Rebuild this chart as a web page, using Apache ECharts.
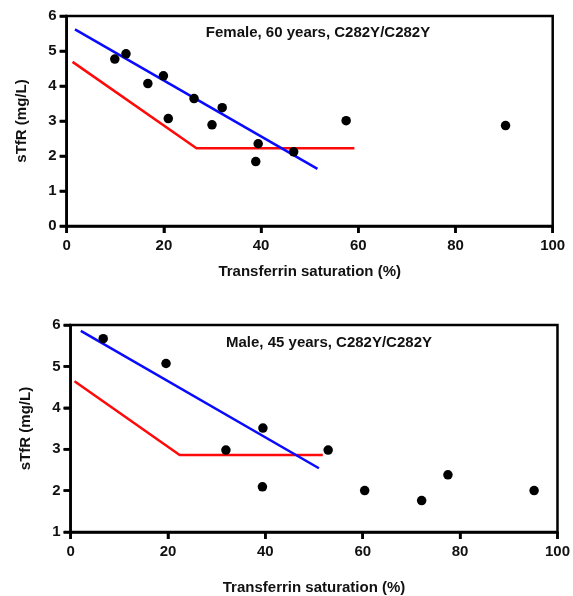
<!DOCTYPE html>
<html>
<head>
<meta charset="utf-8">
<script src="https://cdn.jsdelivr.net/npm/echarts@6/dist/echarts.min.js"></script>
<style>
html,body{margin:0;padding:0;background:#fff;}
#chart{width:573px;height:596px;}
</style>
</head>
<body>
<div id="chart"></div>
<script>
// ---- Data ----
var xTickLabels = ['0', '20', '40', '60', '80', '100'];
var femaleTopYTicks = ['0', '1', '2', '3', '4', '5', '6'];
var maleYTicks = ['1', '2', '3', '4', '5', '6'];

// Female, 60 years: measured points
var femaleSat  = [9.9, 12.2, 16.7, 19.9, 20.9, 26.2, 29.9, 32.0, 39.4, 38.9, 46.7, 57.5, 90.3];
var femaleStfr = [4.77, 4.92, 4.07, 4.29, 3.07, 3.64, 2.89, 3.38, 2.35, 1.84, 2.12, 3.01, 2.87];
// Female: blue regression line and red reference line
var femaleBlueX = [1.7, 51.6];
var femaleBlueY = [5.62, 1.63];
var femaleRedX  = [1.2, 26.7, 59.2];
var femaleRedY  = [4.69, 2.22, 2.22];

// Male, 45 years: measured points
var maleSat  = [6.7, 19.6, 31.9, 39.5, 39.4, 52.9, 60.4, 72.1, 77.5, 95.2];
var maleStfr = [5.67, 5.07, 2.98, 3.51, 2.09, 2.98, 2.0, 1.76, 2.38, 2.0];
// Male: blue regression line and red reference line
var maleBlueX = [2.1, 51.0];
var maleBlueY = [5.86, 2.54];
var maleRedX  = [0.8, 22.4, 51.8];
var maleRedY  = [4.64, 2.86, 2.86];

var titles = ['Female, 60 years, C282Y/C282Y', 'Male, 45 years, C282Y/C282Y'];
var xName = 'Transferrin saturation (%)';
var yName = 'sTfR (mg/L)';

// ---- Build ----
function pairs(xs, ys) { return xs.map(function (x, i) { return [x, ys[i]]; }); }

var FONT = "'Liberation Sans', Arial, sans-serif";
var TXT = '#111';
var TICK_LEN = 7;

function xAxis(gridIndex, gap) {
  return {
    type: 'value', gridIndex: gridIndex, min: 0, max: 100, interval: 20,
    name: xName, nameLocation: 'middle', nameGap: gap,
    nameTextStyle: { fontFamily: FONT, fontWeight: 'bold', fontSize: 15, color: TXT },
    axisLine: { show: true, onZero: false, lineStyle: { color: '#000', width: 2.5 } },
    axisTick: { show: true, inside: false, length: TICK_LEN, lineStyle: { color: '#000', width: 2.5 } },
    axisLabel: { show: true, fontFamily: FONT, fontWeight: 'bold', fontSize: 15, color: TXT, margin: 12,
      formatter: function (v) { var i = xTickLabels.indexOf(String(v)); return i >= 0 ? xTickLabels[i] : ''; } },
    splitLine: { show: false }
  };
}
function yAxis(gridIndex, min, labels) {
  return {
    type: 'value', gridIndex: gridIndex, min: min, max: 6, interval: 1,
    name: yName, nameLocation: 'middle', nameGap: 37,
    nameTextStyle: { fontFamily: FONT, fontWeight: 'bold', fontSize: 15, color: TXT },
    axisLine: { show: true, onZero: false, lineStyle: { color: '#000', width: 2.5 } },
    axisTick: { show: true, inside: false, length: TICK_LEN, lineStyle: { color: '#000', width: 2.5 } },
    axisLabel: { show: true, fontFamily: FONT, fontWeight: 'bold', fontSize: 15, color: TXT, margin: 10,
      formatter: function (v) { var i = labels.indexOf(String(v)); return i >= 0 ? labels[i] : ''; } },
    splitLine: { show: false }
  };
}
function scatter(idx, xs, ys) {
  return { type: 'scatter', xAxisIndex: idx, yAxisIndex: idx, data: pairs(xs, ys),
    symbol: 'circle', symbolSize: 9.5, itemStyle: { color: '#000', opacity: 1 }, z: 5 };
}
function line(idx, xs, ys, color) {
  return { type: 'line', xAxisIndex: idx, yAxisIndex: idx, data: pairs(xs, ys),
    showSymbol: false, symbol: 'none', lineStyle: { color: color, width: 2.5 }, z: 3 };
}

var chart = echarts.init(document.getElementById('chart'), null, { renderer: 'canvas' });
var titleGraphics = [
  { id: 't0', type: 'text', style: { text: titles[0], x: 318, y: 33, align: 'center', verticalAlign: 'middle',
    font: 'bold 15px ' + FONT, fill: TXT } },
  { id: 't1', type: 'text', style: { text: titles[1], x: 329, y: 343, align: 'center', verticalAlign: 'middle',
    font: 'bold 15px ' + FONT, fill: TXT } }
];
chart.setOption({
  animation: false,
  backgroundColor: '#fff',
  grid: [
    { left: 66.7, right: 20.3, top: 16, height: 210, show: true, borderColor: '#000', borderWidth: 2.5, backgroundColor: 'transparent' },
    { left: 70.6, right: 15.3, top: 325, height: 208, show: true, borderColor: '#000', borderWidth: 2.5, backgroundColor: 'transparent' }
  ],
  xAxis: [xAxis(0, 38), xAxis(1, 48)],
  yAxis: [yAxis(0, 0, femaleTopYTicks), yAxis(1, 1, maleYTicks)],
  graphic: titleGraphics,
  series: [
    line(0, femaleRedX, femaleRedY, '#ff0a0a'),
    line(0, femaleBlueX, femaleBlueY, '#0a0aff'),
    scatter(0, femaleSat, femaleStfr),
    line(1, maleRedX, maleRedY, '#ff0a0a'),
    line(1, maleBlueX, maleBlueY, '#0a0aff'),
    scatter(1, maleSat, maleStfr)
  ]
});

// Tick marks placed through the axes' own scales (convertToPixel)
function tickGraphics(gridIndex, xTicks, yTicks, yMin) {
  var out = [];
  xTicks.forEach(function (t) {
    var p = chart.convertToPixel({ gridIndex: gridIndex }, [Number(t), yMin]);
    out.push({ type: 'line', z: 100, shape: { x1: p[0], y1: p[1], x2: p[0], y2: p[1] + TICK_LEN },
      style: { stroke: '#000', lineWidth: 2.5 } });
  });
  yTicks.forEach(function (t) {
    var p = chart.convertToPixel({ gridIndex: gridIndex }, [0, Number(t)]);
    out.push({ type: 'line', z: 100, shape: { x1: p[0] - TICK_LEN, y1: p[1], x2: p[0], y2: p[1] },
      style: { stroke: '#000', lineWidth: 2.5 } });
  });
  return out;
}
chart.setOption({
  graphic: titleGraphics
    .concat(tickGraphics(0, xTickLabels, femaleTopYTicks, 0))
    .concat(tickGraphics(1, xTickLabels, maleYTicks, 1))
});
</script>
</body>
</html>
